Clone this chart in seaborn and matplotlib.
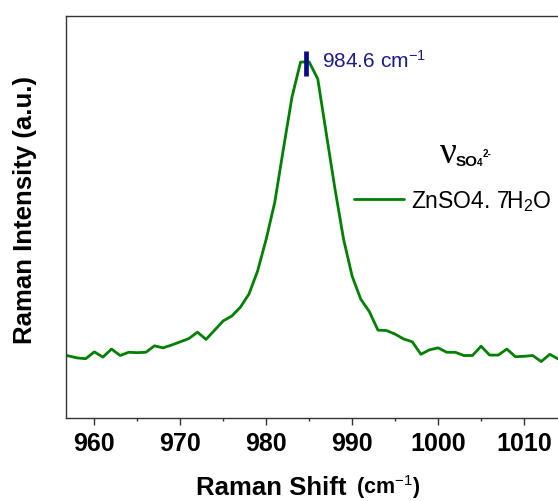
import numpy as np
import pandas as pd
import matplotlib
matplotlib.use("Agg")
import matplotlib.pyplot as plt
import seaborn as sns

# ---- data ----
shift = [956, 957, 958, 959, 960, 961, 962, 963, 964, 965, 966, 967, 968, 969,
         970, 971, 972, 973, 974, 975, 976, 977, 978, 979, 980, 981, 982, 983,
         984, 985, 986, 987, 988, 989, 990, 991, 992, 993, 994, 995, 996, 997,
         998, 999, 1000, 1001, 1002, 1003, 1004, 1005, 1006, 1007, 1008, 1009,
         1010, 1011, 1012, 1013, 1014, 1015]
intensity = [160, 155, 150, 148, 165, 152, 172, 156, 164, 163, 164, 180, 175, 182,
             190, 198, 214, 196, 219, 242, 254, 276, 309, 366, 445, 537, 669, 798,
             885, 885, 843, 706, 570, 445, 353, 296, 265, 219, 218, 209, 197, 190,
             159, 170, 175, 164, 164, 156, 156, 179, 157, 157, 172, 153,
             154, 156, 141, 159, 147, 150]
series_label = "ZnSO4. 7H$_2$O"
peak_pos = 984.6
peak_label = "984.6 cm$^{-1}$"
x_ticks = [960, 970, 980, 990, 1000, 1010]

df = pd.DataFrame({"shift": shift, "intensity": intensity})

sns.set_theme(style="ticks")
plt.rcParams["font.family"] = ["Liberation Sans", "DejaVu Sans"]
plt.rcParams["mathtext.fontset"] = "custom"
plt.rcParams["mathtext.rm"] = "Liberation Sans"
plt.rcParams["mathtext.it"] = "Liberation Sans:italic"
plt.rcParams["mathtext.bf"] = "Liberation Sans:bold"
plt.rcParams["text.color"] = "black"
plt.rcParams["xtick.labelcolor"] = "black"

W, H = 558, 502
fig = plt.figure(figsize=(W / 100, H / 100), dpi=100)

def fx(px):
    return px / W

def fy(py):
    return 1 - py / H

left, top, bottom, right = 65.7, 16.7, 419.3, 567.0
ax = fig.add_axes([fx(left), fy(bottom), fx(right - left), (bottom - top) / H])

sns.lineplot(data=df, x="shift", y="intensity", ax=ax, color="#008000",
             linewidth=2.0, label=series_label)

ax.set_xlim(956.67, 1015.0)
ax.set_ylim(0, 1000)
ax.set_xticks(x_ticks)
ax.set_xticks(np.arange(965, 1015, 10), minor=True)
ax.set_yticks([])
ax.set_xlabel("")
ax.set_ylabel("")

for s in ["top", "left", "bottom"]:
    ax.spines[s].set_color("#333333")
    ax.spines[s].set_linewidth(1.0)
ax.spines["right"].set_visible(False)

ax.tick_params(axis="x", which="major", length=5, width=1.0, color="#333333",
               direction="out", pad=4, labelsize=18, labelcolor="black")
ax.tick_params(axis="x", which="minor", length=2.5, width=1.0, color="#333333",
               direction="out")
for lab in ax.get_xticklabels():
    lab.set_fontweight("bold")

# peak marker
ax.plot([peak_pos, peak_pos], [849, 912], color="#0a0a85", lw=3.4,
        solid_capstyle="butt")
ax.text(986.44, 872, peak_label, color="#1c1c8c", fontsize=15,
        ha="left", va="baseline")

# nu label
fig.text(fx(440), fy(162.7), "ν", fontsize=27, family="Liberation Serif",
         ha="left", va="baseline")
fig.text(fx(455.5), fy(166.5), "SO", fontsize=11, fontweight="bold",
         ha="left", va="baseline")
fig.text(fx(476.5), fy(166.0), "4", fontsize=7, fontweight="bold",
         ha="left", va="baseline")
fig.text(fx(482.5), fy(157.5), "2-", fontsize=7, fontweight="bold",
         ha="left", va="baseline")

# legend
leg = ax.legend(loc="center left", bbox_to_anchor=(fx(354), fy(201.7)),
                bbox_transform=fig.transFigure, frameon=False, borderpad=0,
                borderaxespad=0, handlelength=2.2, handletextpad=0.3,
                prop={"size": 16.5})
for t in leg.get_texts():
    t.set_color("black")

# axis labels
fig.text(fx(25), fy(210.5), "Raman Intensity (a.u.)", rotation=90,
         fontsize=18.5, fontweight="bold", ha="center", va="center")
fig.text(fx(354), fy(495.5), "Raman Shift ", fontsize=18.5, fontweight="bold",
         ha="right", va="baseline")
fig.text(fx(356), fy(494.0), "(cm$^{-1}$)", fontsize=15.5, fontweight="bold",
         ha="left", va="baseline")

fig.savefig("out.png", dpi=100)
